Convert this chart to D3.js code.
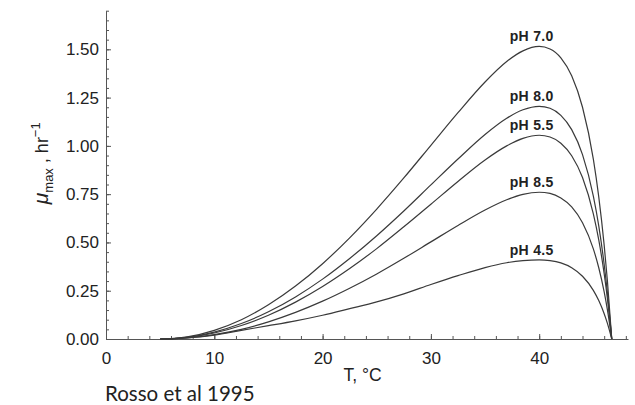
<!DOCTYPE html>
<html>
<head>
<meta charset="utf-8">
<script src="https://cdn.jsdelivr.net/npm/d3@7/dist/d3.min.js"></script>
<style>
  body { margin: 0; background: #fff; }
  svg { display: block; }
  .axis text { font-family: "Liberation Sans", Arial, sans-serif; font-size: 17px; fill: #222; }
  .axis path, .axis line { stroke: #555; }
</style>
</head>
<body>
<svg width="635" height="405"></svg>
<script>
// temperature (°C)
var temps = [5, 6, 7.5, 10, 12.5, 15, 17.5, 20, 22.5, 25, 27.5, 30, 32.5, 35, 37, 38.5, 40, 41, 42, 43, 44, 45, 45.5, 46, 46.3, 46.7];

// mu max (1/hr) for each pH curve
var pH70 = [0, 0.002, 0.011, 0.045, 0.100, 0.177, 0.274, 0.390, 0.524, 0.673, 0.834, 1.003, 1.172, 1.331, 1.437, 1.492, 1.515, 1.502, 1.456, 1.363, 1.200, 0.931, 0.736, 0.486, 0.300, 0];
var pH80 = [0, 0.001, 0.009, 0.036, 0.080, 0.141, 0.218, 0.310, 0.417, 0.535, 0.663, 0.798, 0.932, 1.059, 1.143, 1.187, 1.205, 1.195, 1.158, 1.084, 0.955, 0.740, 0.586, 0.386, 0.239, 0];
var pH55 = [0, 0.001, 0.008, 0.031, 0.070, 0.123, 0.191, 0.272, 0.365, 0.468, 0.581, 0.698, 0.816, 0.927, 1.000, 1.039, 1.055, 1.046, 1.014, 0.949, 0.836, 0.648, 0.513, 0.338, 0.209, 0];
var pH85 = [0, 0.001, 0.006, 0.023, 0.050, 0.089, 0.138, 0.196, 0.263, 0.337, 0.418, 0.503, 0.588, 0.668, 0.721, 0.749, 0.760, 0.754, 0.730, 0.684, 0.602, 0.467, 0.369, 0.244, 0.151, 0];
var pH45 = [0, 0.001, 0.006, 0.020, 0.045, 0.069, 0.094, 0.123, 0.157, 0.192, 0.234, 0.282, 0.328, 0.370, 0.395, 0.406, 0.410, 0.406, 0.394, 0.369, 0.325, 0.252, 0.199, 0.131, 0.081, 0];

var labels = ["pH 7.0", "pH 8.0", "pH 5.5", "pH 8.5", "pH 4.5"];
var series = [pH70, pH80, pH55, pH85, pH45];

var xMajor = [0, 10, 20, 30, 40];
var yMajor = [0, 0.25, 0.5, 0.75, 1.0, 1.25, 1.5];

var svg = d3.select("svg");

var x = d3.scaleLinear().domain([0, 48.2]).range([106, 628]);
var y = d3.scaleLinear().domain([0, 1.70]).range([339, 10.7]);

var fmt = d3.format(".2f");

// minor ticks first, no labels
svg.append("g")
    .attr("class", "axis")
    .attr("transform", "translate(0," + y(0) + ")")
    .call(d3.axisBottom(x).tickValues(d3.range(0, 49, 2)).tickSizeInner(-3).tickSizeOuter(0).tickFormat(""));

svg.append("g")
    .attr("class", "axis")
    .attr("transform", "translate(" + x(0) + ",0)")
    .call(d3.axisLeft(y).tickValues(d3.range(0, 1.701, 0.05)).tickSizeInner(-3).tickSizeOuter(0).tickFormat(""));

// major ticks + labels
var xAx = svg.append("g")
    .attr("class", "axis")
    .attr("transform", "translate(0," + y(0) + ")")
    .call(d3.axisBottom(x).tickValues(xMajor).tickSizeInner(-5).tickSizeOuter(0).tickPadding(13).tickFormat(d3.format("d")));
xAx.select(".domain").remove();

var yAx = svg.append("g")
    .attr("class", "axis")
    .attr("transform", "translate(" + x(0) + ",0)")
    .call(d3.axisLeft(y).tickValues(yMajor).tickSizeInner(-5).tickSizeOuter(0).tickPadding(7).tickFormat(fmt));
yAx.select(".domain").remove();

var line = d3.line()
    .x(function(d, i) { return x(temps[i]); })
    .y(function(d) { return y(d); })
    .curve(d3.curveMonotoneX);

svg.append("g")
  .selectAll("path")
  .data(series)
  .enter().append("path")
    .attr("d", line)
    .attr("fill", "none")
    .attr("stroke", "#3a3a3a")
    .attr("stroke-width", 1.2);

// pH labels sit just above each peak
svg.append("g")
  .selectAll("text")
  .data(series)
  .enter().append("text")
    .attr("x", x(39.3))
    .attr("y", function(d) { return y(d3.max(d)) - 5; })
    .attr("text-anchor", "middle")
    .attr("font-family", "Liberation Sans, Arial, sans-serif")
    .attr("font-size", 14)
    .attr("font-weight", "bold")
    .attr("letter-spacing", 0.3)
    .attr("fill", "#222")
    .text(function(d, i) { return labels[i]; });

// axis titles
svg.append("text")
    .attr("x", x(23.7))
    .attr("y", 381)
    .attr("text-anchor", "middle")
    .attr("font-family", "Liberation Sans, Arial, sans-serif")
    .attr("font-size", 17.5)
    .attr("fill", "#222")
    .text("T, °C");

var yt = svg.append("text")
    .attr("transform", "translate(48," + y(0.91) + ") rotate(-90)")
    .attr("text-anchor", "middle")
    .attr("font-family", "Liberation Sans, Arial, sans-serif")
    .attr("font-size", 18)
    .attr("fill", "#222");
yt.append("tspan").attr("font-style", "italic").attr("font-size", 21).text("μ");
yt.append("tspan").attr("dy", 5).attr("font-size", 13).text("max");
yt.append("tspan").attr("dy", -5).text(" , hr");
yt.append("tspan").attr("dy", -8).attr("font-size", 13).text("−1");

svg.append("text")
    .attr("x", 105)
    .attr("y", 401)
    .attr("font-family", "Lato, 'Open Sans', sans-serif")
    .attr("font-size", 20.5)
    .attr("fill", "#222")
    .text("Rosso et al 1995");
</script>
</body>
</html>
